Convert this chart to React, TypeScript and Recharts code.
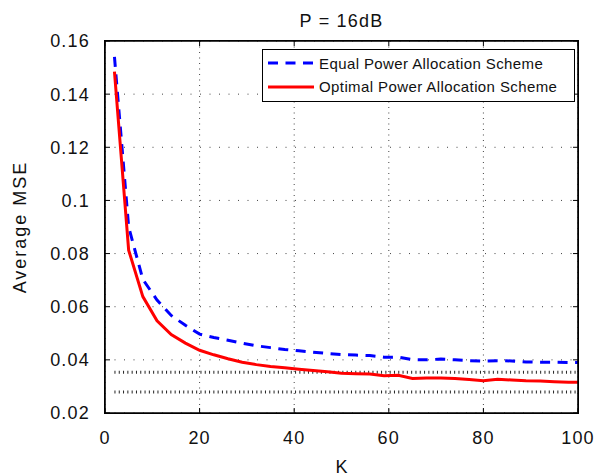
import React from "react";
import {
  LineChart,
  Line,
  XAxis,
  YAxis,
  CartesianGrid,
  ReferenceLine,
  Legend,
} from "recharts";

const FONT = "'Liberation Sans', Arial, sans-serif";

// number of users K
const kValues = [
  2, 5, 8, 11, 14, 17, 20, 23, 26, 29, 32, 35, 38, 41, 44, 47, 50, 53, 56, 59,
  62, 65, 68, 71, 74, 77, 80, 83, 86, 89, 92, 95, 98, 100,
];

// average MSE, equal power allocation
const equalMse = [
  0.154, 0.09, 0.0703, 0.0625, 0.0567, 0.053, 0.0497, 0.0484, 0.0474, 0.0463,
  0.0453, 0.0446, 0.0439, 0.0434, 0.0429, 0.0424, 0.042, 0.0418, 0.0416, 0.041,
  0.041, 0.0401, 0.04, 0.0403, 0.04, 0.0397, 0.0395, 0.0397, 0.0396, 0.0392,
  0.0391, 0.0391, 0.039, 0.039,
];

// average MSE, optimal power allocation
const optimalMse = [
  0.1485, 0.0813, 0.0638, 0.0547, 0.0495, 0.0463, 0.0436, 0.0419, 0.0404,
  0.0391, 0.0382, 0.0375, 0.037, 0.0365, 0.036, 0.0355, 0.035, 0.0348, 0.0347,
  0.034, 0.0342, 0.033, 0.0332, 0.0332, 0.033, 0.0326, 0.0321, 0.0327, 0.0324,
  0.0321, 0.032, 0.0318, 0.0316, 0.0316,
];

// the two flat dotted levels
const boundLevels = [0.0353, 0.0279];
const boundRange = [2, 100];

const xDomain = [0, 100];
const yDomain = [0.02, 0.16];
const xTicks = [0, 20, 40, 60, 80, 100];
const yTicks = [0.02, 0.04, 0.06, 0.08, 0.1, 0.12, 0.14, 0.16];

const data = kValues.map((k, i) => ({
  k,
  equal: equalMse[i],
  optimal: optimalMse[i],
}));

const legendItems = [
  { label: "Equal Power Allocation Scheme", color: "#0000ff", dash: "10 7.5" },
  { label: "Optimal Power Allocation Scheme", color: "#ff0000", dash: undefined },
];

const tickStyle = { fontSize: 18, fill: "#111", fontFamily: FONT, letterSpacing: 1.2 };

// one side of the matlab style box, with its ticks pointing inwards
const boxSide = (side: "top" | "bottom" | "left" | "right") => (p: any) => {
  const { x1, y1, x2, y2 } = p;
  const horizontal = side === "top" || side === "bottom";
  const lo = horizontal ? Math.min(x1, x2) : Math.min(y1, y2);
  const hi = horizontal ? Math.max(x1, x2) : Math.max(y1, y2);
  const dir = side === "top" || side === "left" ? 1 : -1;
  const marks = horizontal
    ? xTicks.map((t) => lo + ((t - xDomain[0]) / (xDomain[1] - xDomain[0])) * (hi - lo))
    : yTicks.map((t) => hi - ((t - yDomain[0]) / (yDomain[1] - yDomain[0])) * (hi - lo));
  return (
    <g>
      <line x1={x1} y1={y1} x2={x2} y2={y2} stroke="#000" strokeWidth={1.6} />
      {marks.map((m, i) =>
        horizontal ? (
          <line key={i} x1={m} y1={y1} x2={m} y2={y1 + dir * 5} stroke="#000" strokeWidth={1} />
        ) : (
          <line key={i} x1={x1} y1={m} x2={x1 + dir * 5} y2={m} stroke="#000" strokeWidth={1} />
        )
      )}
    </g>
  );
};

const renderLegend = () => (
  <div
    style={{
      width: 313,
      height: 53,
      boxSizing: "border-box",
      border: "1.2px solid #000",
      background: "#fff",
      position: "relative",
      fontFamily: FONT,
      fontSize: 15,
      letterSpacing: 0.4,
      color: "#111",
    }}
  >
    {legendItems.map((item, i) => (
      <div
        key={item.label}
        style={{
          position: "absolute",
          left: 5,
          top: 1.5 + i * 23.7,
          height: 23.5,
          display: "flex",
          alignItems: "center",
          whiteSpace: "nowrap",
        }}
      >
        <svg width={46} height={6} style={{ marginRight: 5 }}>
          <line
            x1={0}
            y1={3}
            x2={46}
            y2={3}
            stroke={item.color}
            strokeWidth={3}
            strokeDasharray={item.dash}
          />
        </svg>
        <span>{item.label}</span>
      </div>
    ))}
  </div>
);

const App: React.FC = () => {
  return (
    <div
      style={{
        position: "absolute",
        left: 0,
        top: 0,
        width: 597,
        height: 476,
        background: "#fff",
      }}
    >
      <LineChart
        width={597}
        height={476}
        data={data}
        margin={{ top: 41, right: 19, bottom: 0, left: 0 }}
      >
        <CartesianGrid
          vertical={false}
          stroke="#444"
          strokeDasharray="1 8.5"
        />
        <CartesianGrid
          horizontal={false}
          stroke="#444"
          strokeDasharray="1 4.5"
        />
        <XAxis
          dataKey="k"
          type="number"
          domain={xDomain}
          ticks={xTicks}
          height={63}
          axisLine={false}
          tickLine={false}
          tickSize={0}
          tickMargin={18}
          tick={tickStyle}
          label={{
            value: "K",
            position: "insideBottom",
            offset: 3,
            fontSize: 18,
            fill: "#111",
            fontFamily: FONT,
          }}
        />
        <YAxis
          type="number"
          domain={yDomain}
          ticks={yTicks}
          width={105}
          axisLine={false}
          tickLine={false}
          tickSize={0}
          tickMargin={15}
          tick={tickStyle}
          tickFormatter={(v: number) => String(Number(v.toFixed(2)))}
          label={{
            value: "Average MSE",
            angle: -90,
            position: "insideLeft",
            offset: 20,
            fontSize: 18,
            fill: "#111",
            fontFamily: FONT,
            letterSpacing: 2,
            style: { textAnchor: "middle" },
          }}
        />
        {boundLevels.map((level) => (
          <ReferenceLine
            key={level}
            segment={[
              { x: boundRange[0], y: level },
              { x: boundRange[1], y: level },
            ]}
            stroke="#222"
            strokeWidth={3}
            strokeDasharray="1 3.3"
          />
        ))}
        <Line
          type="linear"
          dataKey="equal"
          stroke="#0000ff"
          strokeWidth={3}
          strokeDasharray="10 7.5"
          dot={false}
          isAnimationActive={false}
        />
        <Line
          type="linear"
          dataKey="optimal"
          stroke="#ff0000"
          strokeWidth={3}
          dot={false}
          isAnimationActive={false}
        />
        <ReferenceLine y={yDomain[0]} ifOverflow="visible" shape={boxSide("bottom")} />
        <ReferenceLine x={xDomain[0]} ifOverflow="visible" shape={boxSide("left")} />
        <ReferenceLine x={xDomain[1]} ifOverflow="visible" shape={boxSide("right")} />
        <ReferenceLine
          y={yDomain[1]}
          ifOverflow="visible"
          shape={boxSide("top")}
          label={{
            value: "P = 16dB",
            position: "top",
            offset: 14,
            fontSize: 18,
            fill: "#111",
            fontFamily: FONT,
            letterSpacing: 1.2,
          }}
        />
        <Legend
          layout="vertical"
          align="center"
          verticalAlign="middle"
          wrapperStyle={{ left: 262, top: 49, width: 313, height: 53 }}
          content={renderLegend}
        />
      </LineChart>
      {/* outer frame of the axes box */}
      <div
        style={{
          position: "absolute",
          left: 104.2,
          top: 40.2,
          width: 475.2,
          height: 373.6,
          boxSizing: "border-box",
          border: "1.6px solid #000",
          pointerEvents: "none",
        }}
      />
    </div>
  );
};

export default App;
